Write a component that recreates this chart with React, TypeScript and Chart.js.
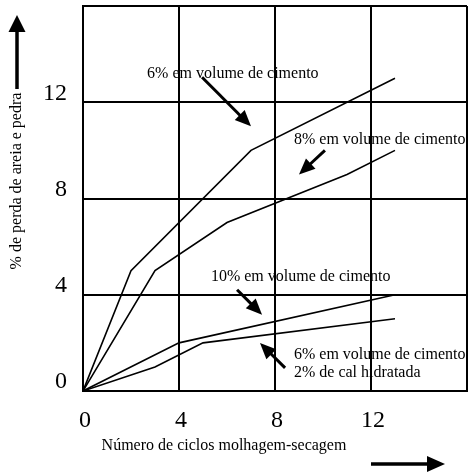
import { useEffect, useRef } from "react";
import { Chart, registerables } from "chart.js";

Chart.register(...registerables);

// ---- data (cycles -> % loss) ----
const cycles6 = [0, 2, 7, 13];
const loss6 = [0, 5, 10, 13];
const cycles8 = [0, 3, 6, 11, 13];
const loss8 = [0, 5, 7, 9, 10];
const cycles10 = [0, 4, 13];
const loss10 = [0, 2, 4];
const cyclesCal = [0, 3, 5, 13];
const lossCal = [0, 1, 2, 3];

const axisMin = 0;
const axisMax = 16;
const axisStep = 4;
const hiddenTick = 16;

const xTitle = "Número de ciclos molhagem-secagem";
const yTitle = "% de perda de areia e pedra";

// annotation labels (data units): [x, y, text]
const labelX = [2.67, 8.79, 5.33, 8.79, 8.79];
const labelY = [13.17, 10.42, 4.75, 1.5, 0.75];
const labelText = [
  "6% em volume de cimento",
  "8% em volume de cimento",
  "10% em volume de cimento",
  "6% em volume de cimento",
  "2% de cal hidratada",
];

// annotation arrows (data units): start -> tip
const arrowFromX = [4.96, 10.08, 6.42, 8.42];
const arrowFromY = [13.04, 10.0, 4.21, 0.96];
const arrowToX = [7.0, 9.0, 7.46, 7.375];
const arrowToY = [11.0, 9.0, 3.17, 2.0];

const FONT = "'Liberation Serif', 'Times New Roman', serif";

function drawArrow(
  ctx: CanvasRenderingContext2D,
  x1: number,
  y1: number,
  x2: number,
  y2: number,
  lw: number,
  headLen: number,
  headHalf: number
) {
  const dx = x2 - x1;
  const dy = y2 - y1;
  const len = Math.hypot(dx, dy);
  const ux = dx / len;
  const uy = dy / len;
  const bx = x2 - ux * headLen;
  const by = y2 - uy * headLen;
  ctx.save();
  ctx.strokeStyle = "#000";
  ctx.fillStyle = "#000";
  ctx.lineWidth = lw;
  ctx.lineCap = "butt";
  ctx.beginPath();
  ctx.moveTo(x1, y1);
  ctx.lineTo(bx + ux * 1, by + uy * 1);
  ctx.stroke();
  ctx.beginPath();
  ctx.moveTo(x2, y2);
  ctx.lineTo(bx - uy * headHalf, by + ux * headHalf);
  ctx.lineTo(bx + uy * headHalf, by - ux * headHalf);
  ctx.closePath();
  ctx.fill();
  ctx.restore();
}

const annotationPlugin = {
  id: "annotations",
  afterDraw(chart: any) {
    const ctx: CanvasRenderingContext2D = chart.ctx;
    const xs = chart.scales.x;
    const ys = chart.scales.y;
    const area = chart.chartArea;

    ctx.save();
    ctx.fillStyle = "#000";
    ctx.font = `16px ${FONT}`;
    ctx.textAlign = "left";
    ctx.textBaseline = "middle";
    labelText.forEach((t, i) => {
      ctx.fillText(t, xs.getPixelForValue(labelX[i]), ys.getPixelForValue(labelY[i]));
    });
    ctx.restore();

    arrowFromX.forEach((_, i) => {
      drawArrow(
        ctx,
        xs.getPixelForValue(arrowFromX[i]),
        ys.getPixelForValue(arrowFromY[i]),
        xs.getPixelForValue(arrowToX[i]),
        ys.getPixelForValue(arrowToY[i]),
        3,
        16,
        7
      );
    });

    // axis titles
    ctx.save();
    ctx.fillStyle = "#000";
    ctx.font = `16px ${FONT}`;
    ctx.textAlign = "center";
    ctx.textBaseline = "middle";
    ctx.fillText(xTitle, area.left + 141, area.bottom + 55);
    ctx.translate(area.left - 66, area.top + 175);
    ctx.rotate(-Math.PI / 2);
    ctx.fillText(yTitle, 0, 0);
    ctx.restore();

    // axis direction arrows
    drawArrow(ctx, area.left - 66, area.top + 83, area.left - 66, area.top + 9, 3.5, 17, 8.5);
    drawArrow(ctx, area.left + 288, area.bottom + 73, area.left + 362, area.bottom + 73, 3.5, 18, 8);
  },
};

function makeSeries(xs: number[], ys: number[]) {
  return {
    data: xs.map((x, i) => ({ x, y: ys[i] })),
    showLine: true,
    borderColor: "#000",
    backgroundColor: "#000",
    borderWidth: 1.6,
    pointRadius: 0,
    pointHoverRadius: 0,
    fill: false,
    tension: 0,
  };
}

export default function App() {
  const ref = useRef<HTMLCanvasElement | null>(null);

  useEffect(() => {
    if (!ref.current) return;
    const tickCb = (v: any) => (Number(v) === hiddenTick ? "" : String(v));
    const chart = new Chart(ref.current, {
      type: "scatter",
      data: {
        datasets: [
          makeSeries(cycles6, loss6),
          makeSeries(cycles8, loss8),
          makeSeries(cycles10, loss10),
          makeSeries(cyclesCal, lossCal),
        ] as any,
      },
      options: {
        animation: false,
        responsive: false,
        maintainAspectRatio: false,
        layout: { padding: { top: 6, right: 1, left: 0, bottom: 0 } },
        plugins: {
          legend: { display: false },
          tooltip: { enabled: false },
        },
        scales: {
          x: {
            type: "linear",
            min: axisMin,
            max: axisMax,
            ticks: {
              stepSize: axisStep,
              callback: tickCb,
              color: "#000",
              font: { family: FONT, size: 24 },
              padding: 15,
              labelOffset: 2,
              maxRotation: 0,
              autoSkip: false,
            },
            grid: { color: "#000", lineWidth: 2, drawTicks: false },
            border: { color: "#000", width: 2 },
            afterFit: (s: any) => {
              s.height = 81;
              s.paddingLeft = 0;
              s.paddingRight = 0;
              s.paddingTop = 0;
              s.paddingBottom = 0;
            },
          },
          y: {
            type: "linear",
            min: axisMin,
            max: axisMax,
            ticks: {
              stepSize: axisStep,
              callback: tickCb,
              color: "#000",
              font: { family: FONT, size: 24 },
              padding: 16,
              labelOffset: -9,
              autoSkip: false,
            },
            grid: { color: "#000", lineWidth: 2, drawTicks: false },
            border: { color: "#000", width: 2 },
            afterFit: (s: any) => {
              s.width = 83;
              s.paddingLeft = 0;
              s.paddingRight = 0;
              s.paddingTop = 0;
              s.paddingBottom = 0;
            },
          },
        },
      } as any,
      plugins: [annotationPlugin],
    });
    return () => chart.destroy();
  }, []);

  return (
    <div style={{ position: "absolute", left: 0, top: 0, width: 468, height: 472, background: "#fff" }}>
      <canvas ref={ref} width={468} height={472} style={{ width: 468, height: 472 }} />
    </div>
  );
}
